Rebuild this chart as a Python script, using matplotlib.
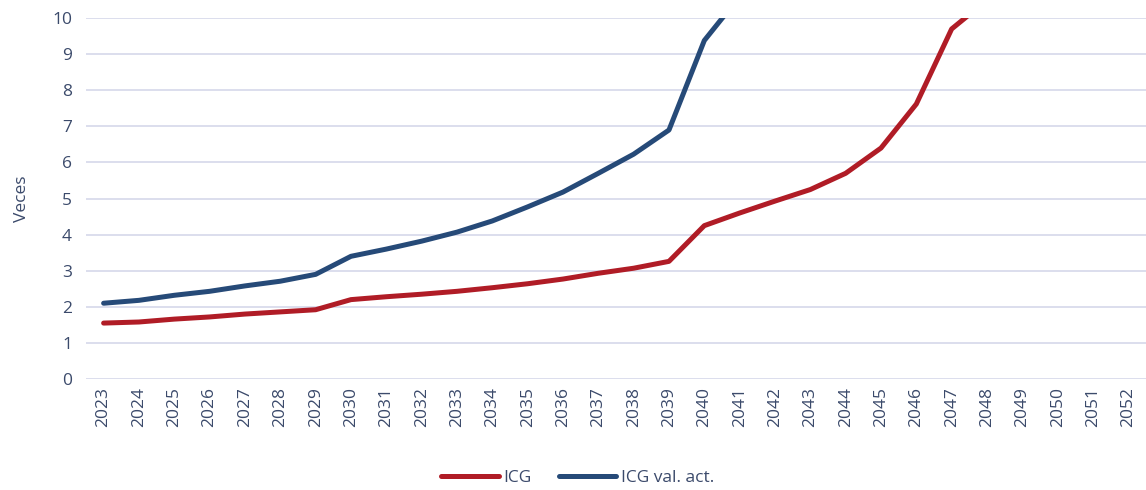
import numpy as np
import matplotlib
matplotlib.use("Agg")
import matplotlib.pyplot as plt

plt.rcParams["font.family"] = ["Open Sans", "DejaVu Sans"]

years = [str(y) for y in range(2023, 2053)]
# values; beyond 10 the lines leave the plot
icg = [1.55, 1.58, 1.66, 1.72, 1.80, 1.86, 1.92, 2.20, 2.28, 2.35,
       2.43, 2.53, 2.64, 2.77, 2.93, 3.07, 3.26, 4.25, 4.60, 4.93,
       5.25, 5.70, 6.40, 7.62, 9.70, 10.5]
icg_val_act = [2.10, 2.18, 2.32, 2.43, 2.58, 2.71, 2.90, 3.40, 3.60, 3.82,
               4.07, 4.38, 4.77, 5.18, 5.70, 6.23, 6.90, 9.38, 10.6]

red = "#B01C26"
blue = "#264A78"
text_col = "#3B4A6B"

fig = plt.figure(figsize=(11.46, 4.9), dpi=100)
ax = fig.add_axes([0.075, 0.2265, 0.925, 0.7365])

x = np.arange(len(years))
ax.plot(x[:len(icg)], icg, color=red, lw=3.6, label="ICG", solid_capstyle="round")
ax.plot(x[:len(icg_val_act)], icg_val_act, color=blue, lw=3.6, label="ICG val. act.",
        solid_capstyle="round")

ax.set_xlim(-0.5, len(years) - 0.5)
ax.set_ylim(0, 10)
ax.set_yticks(range(0, 11))
ax.set_xticks(x)
ax.set_xticklabels(years, rotation=90)
ax.tick_params(length=0, labelsize=12.5, colors=text_col)
ax.tick_params(axis="y", pad=10)
ax.tick_params(axis="x", pad=6)
ax.grid(axis="y", color="#D9DBEC", lw=1.3)
ax.set_axisbelow(True)
for s in ax.spines.values():
    s.set_visible(False)
ax.set_ylabel("Veces", color=text_col, fontsize=12.5, labelpad=16)

fig.legend(loc="center", bbox_to_anchor=(0.504, 0.024), ncol=2, frameon=False,
           fontsize=12.5, handlelength=3.3, columnspacing=1.6, handletextpad=0.25,
           labelcolor=text_col)

fig.savefig("out.png", dpi=100)
